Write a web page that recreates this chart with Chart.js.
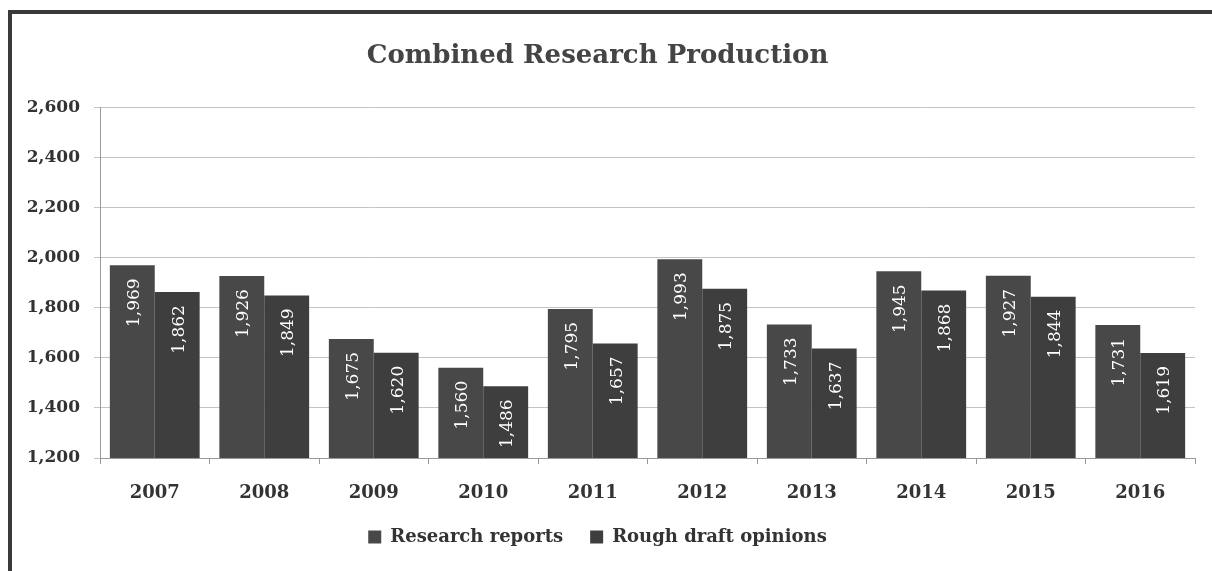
<!DOCTYPE html>
<html>
<head>
<meta charset="utf-8">
<script src="https://cdn.jsdelivr.net/npm/chart.js@4/dist/chart.umd.min.js"></script>
<style>
    body { margin: 0; background: #fff; }
    canvas { display: block; }
</style>
</head>
<body>
<canvas id="myChart" width="1212" height="571"></canvas>
<script>
const YEARS = ['2007', '2008', '2009', '2010', '2011', '2012', '2013', '2014', '2015', '2016'];
const RESEARCH_REPORTS = [1969, 1926, 1675, 1560, 1795, 1993, 1733, 1945, 1927, 1731];
const ROUGH_DRAFTS = [1862, 1849, 1620, 1486, 1657, 1875, 1637, 1868, 1844, 1619];
const Y_MIN = 1200;
const Y_MAX = 2600;
const Y_STEP = 200;

const SERIF = '"DejaVu Serif", "Liberation Serif", serif';

// white page + the scanned frame (top and left edge only)
const framePlugin = {
    id: 'frame',
    beforeDraw: function (chart) {
        var ctx = chart.ctx;
        ctx.save();
        ctx.fillStyle = '#fff';
        ctx.fillRect(0, 0, chart.width, chart.height);
        ctx.fillStyle = '#3a3a3a';
        ctx.fillRect(8, 10, chart.width - 8, 4);
        ctx.fillRect(8, 10, 4, chart.height - 10);
        ctx.restore();
    }
};

// rotated white numbers inside the top of each bar
const barLabelPlugin = {
    id: 'barLabels',
    afterDatasetsDraw: function (chart) {
        var ctx = chart.ctx;
        ctx.save();
        ctx.fillStyle = '#fff';
        ctx.font = '17px ' + SERIF;
        ctx.textAlign = 'right';
        ctx.textBaseline = 'middle';
        chart.data.datasets.forEach(function (ds, i) {
            chart.getDatasetMeta(i).data.forEach(function (bar, j) {
                ctx.save();
                ctx.translate(bar.x + 2, bar.y + 13);
                ctx.rotate(-Math.PI / 2);
                ctx.fillText(ds.data[j].toLocaleString('en-US'), 0, 0);
                ctx.restore();
            });
        });
        ctx.restore();
    }
};

new Chart(document.getElementById('myChart'), {
    type: 'bar',
    data: {
        labels: YEARS,
        datasets: [
            {
                label: 'Research reports',
                data: RESEARCH_REPORTS,
                backgroundColor: '#484848',
                barPercentage: 1,
                categoryPercentage: 0.82
            },
            {
                label: 'Rough draft opinions',
                data: ROUGH_DRAFTS,
                backgroundColor: '#3e3e3e',
                barPercentage: 1,
                categoryPercentage: 0.82
            }
        ]
    },
    options: {
        responsive: false,
        animation: false,
        layout: {
            padding: { left: 0, right: 17, top: 0, bottom: 15 }
        },
        scales: {
            x: {
                offset: true,
                grid: {
                    display: true,
                    drawOnChartArea: false,
                    offset: true,
                    tickLength: 6,
                    color: '#999'
                },
                border: { color: '#999' },
                ticks: {
                    color: '#333',
                    padding: 19,
                    font: { family: SERIF, size: 18, weight: 'bold' }
                },
                afterFit: function (scale) { scale.height = 43; }
            },
            y: {
                min: Y_MIN,
                max: Y_MAX,
                grid: {
                    color: '#c4c4c4',
                    tickLength: 6
                },
                border: { color: '#999' },
                ticks: {
                    stepSize: Y_STEP,
                    color: '#333',
                    padding: 14,
                    font: { family: SERIF, size: 17, weight: 'bold' },
                    callback: function (v) { return v.toLocaleString('en-US'); }
                },
                afterFit: function (scale) { scale.width = 100; }
            }
        },
        plugins: {
            title: {
                display: true,
                text: 'Combined Research Production',
                color: '#444',
                font: { family: SERIF, size: 26, weight: 'bold' },
                padding: { top: 41, bottom: 35 }
            },
            legend: {
                display: true,
                position: 'bottom',
                labels: {
                    color: '#333',
                    boxWidth: 13,
                    boxHeight: 13,
                    padding: 27,
                    font: { family: SERIF, size: 18, weight: 'bold' }
                }
            },
            tooltip: { enabled: false }
        }
    },
    plugins: [framePlugin, barLabelPlugin]
});
</script>
</body>
</html>
